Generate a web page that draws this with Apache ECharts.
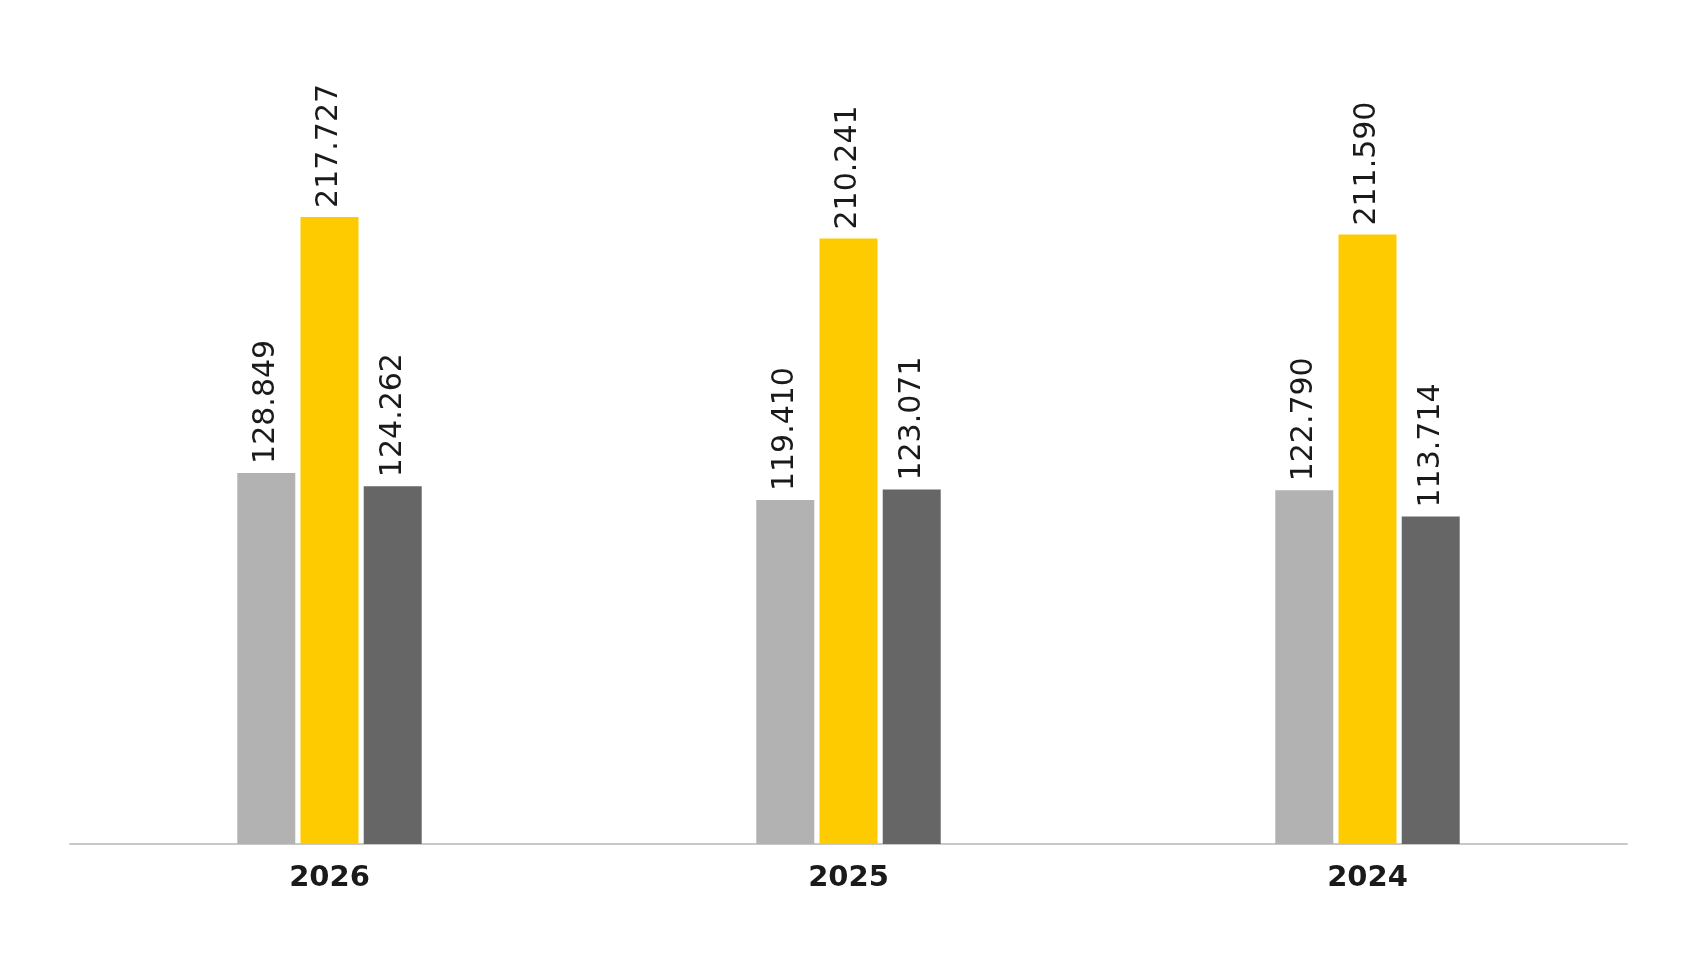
<!DOCTYPE html>
<html>
<head>
<meta charset="utf-8">
<script src="https://cdn.jsdelivr.net/npm/echarts@6/dist/echarts.min.js"></script>
<style>
html,body{margin:0;padding:0;background:#fff;}
#chart{width:1700px;height:956px;}
</style>
</head>
<body>
<div id="chart"></div>
<script>
const categories = ['2026', '2025', '2024'];
const seriesLight = [128849, 119410, 122790];
const seriesYellow = [217727, 210241, 211590];
const seriesDark = [124262, 123071, 113714];

function fmt(v) {
  const s = String(Math.round(v));
  return s.replace(/\B(?=(\d{3})+(?!\d))/g, '.');
}

const labelStyle = {
  show: true,
  position: 'top',
  rotate: 90,
  align: 'left',
  verticalAlign: 'middle',
  distance: 9,
  fontFamily: 'DejaVu Sans',
  fontSize: 30,
  color: '#1a1a1a',
  formatter: p => fmt(p.value)
};

function makeSeries(name, data, color) {
  return {
    name: name,
    type: 'bar',
    data: data,
    barWidth: 58,
    barGap: '9%',
    itemStyle: { color: color },
    label: labelStyle,
    emphasis: { disabled: true }
  };
}

const chart = echarts.init(document.getElementById('chart'));
chart.setOption({
  animation: false,
  backgroundColor: '#ffffff',
  grid: { left: 70, right: 73, top: 124, bottom: 112, containLabel: false },
  xAxis: {
    type: 'category',
    data: categories,
    axisLine: { show: true, lineStyle: { color: '#c8c8c8', width: 2 } },
    axisTick: { show: false },
    axisLabel: {
      margin: 20,
      fontFamily: 'DejaVu Sans',
      fontWeight: 'bold',
      fontSize: 29,
      color: '#1a1a1a'
    }
  },
  yAxis: {
    type: 'value',
    min: 0,
    max: 250000,
    show: false,
    splitLine: { show: false }
  },
  series: [
    makeSeries('Serie 1', seriesLight, '#b2b2b2'),
    makeSeries('Serie 2', seriesYellow, '#fecb00'),
    makeSeries('Serie 3', seriesDark, '#666666')
  ]
});
</script>
</body>
</html>
